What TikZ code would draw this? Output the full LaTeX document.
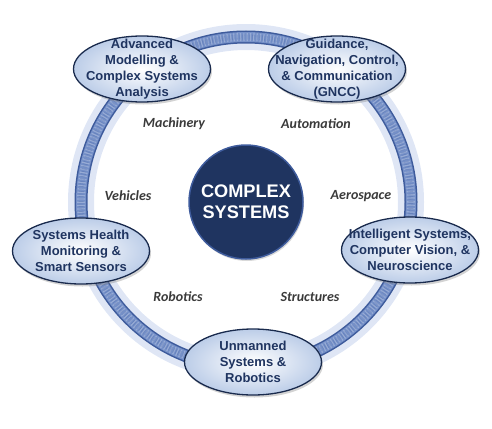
\documentclass[tikz,border=0pt]{standalone}
\usepackage{fontspec}
\setmainfont{Liberation Sans}
\newfontfamily\labelfont{Carlito}
\usetikzlibrary{shapes.geometric,shadows}

\definecolor{navy}{HTML}{1F3460}
\definecolor{rimblue}{HTML}{3E5B9C}
\definecolor{ringblue}{HTML}{7590C8}
\definecolor{glowblue}{HTML}{C9D6EF}
\definecolor{capfill}{HTML}{BCCDE8}
\definecolor{labelgray}{HTML}{3A3A3A}

\tikzset{
  topic/.style={ellipse, draw=navy!80!black, line width=1.3pt,
    inner color=white, outer color=capfill,
    minimum width=137pt, minimum height=66pt, inner xsep=-22pt, inner ysep=-12pt,
    align=center, text=navy, font=\bfseries\fontsize{13}{16}\selectfont,
    drop shadow={opacity=.35, shadow xshift=1.5pt, shadow yshift=-2.5pt}},
  field/.style={text=labelgray, font=\labelfont\bfseries\itshape\fontsize{14}{16}\selectfont},
}

\begin{document}
\begin{tikzpicture}[x=1pt,y=1pt]
  \useasboundingbox (0,0) rectangle (492,-428);
  \pgfmathsetmacro\ringr{165}

% hub
  \node[circle, fill=navy, draw=rimblue, line width=1.5pt, minimum size=114pt,
        align=center, text=white, font=\bfseries\fontsize{18.2}{21}\selectfont,
        drop shadow={opacity=.3, shadow xshift=1pt, shadow yshift=-2pt}]
        (hub) at (246,-202) {COMPLEX\\SYSTEMS};

% ring behind the topics
  \draw[glowblue, opacity=.6, line width=26pt] (hub.center) circle (\ringr);
  \draw[rimblue, line width=13pt] (hub.center) circle (\ringr);
  \draw[ringblue, line width=10pt] (hub.center) circle (\ringr);
  \draw[white, opacity=.25, line width=8pt, dash pattern=on 1.2pt off 2.1pt] (hub.center) circle (\ringr);
  \draw[rimblue, opacity=.25, line width=5pt, dash pattern=on .8pt off 1.7pt] (hub.center) circle (\ringr);

% topics on the ring
  \node[topic] (model)  at (142,-69)  {Advanced\\Modelling \&\\Complex Systems\\Analysis};
  \node[topic] (gncc)   at (337,-69)  {Guidance,\\Navigation, Control,\\\& Communication\\(GNCC)};
  \node[topic] (intel)  at (410,-250) {Intelligent Systems,\\Computer Vision, \&\\Neuroscience};
  \node[topic] (robot)  at (253,-362) {Unmanned\\Systems \&\\Robotics};
  \node[topic] (health) at (81,-251)  {Systems Health\\Monitoring \&\\Smart Sensors};

% application fields
  \node[field] (machinery)  at (174,-124) {Machinery};
  \node[field] (automation) at (316,-124) {Automation};
  \node[field] (vehicles)   at (128,-196) {Vehicles};
  \node[field] (aerospace)  at (361,-196) {Aerospace};
  \node[field] (robotics)   at (178,-297) {Robotics};
  \node[field] (structures) at (310,-297) {Structures};

\end{tikzpicture}
\end{document}
